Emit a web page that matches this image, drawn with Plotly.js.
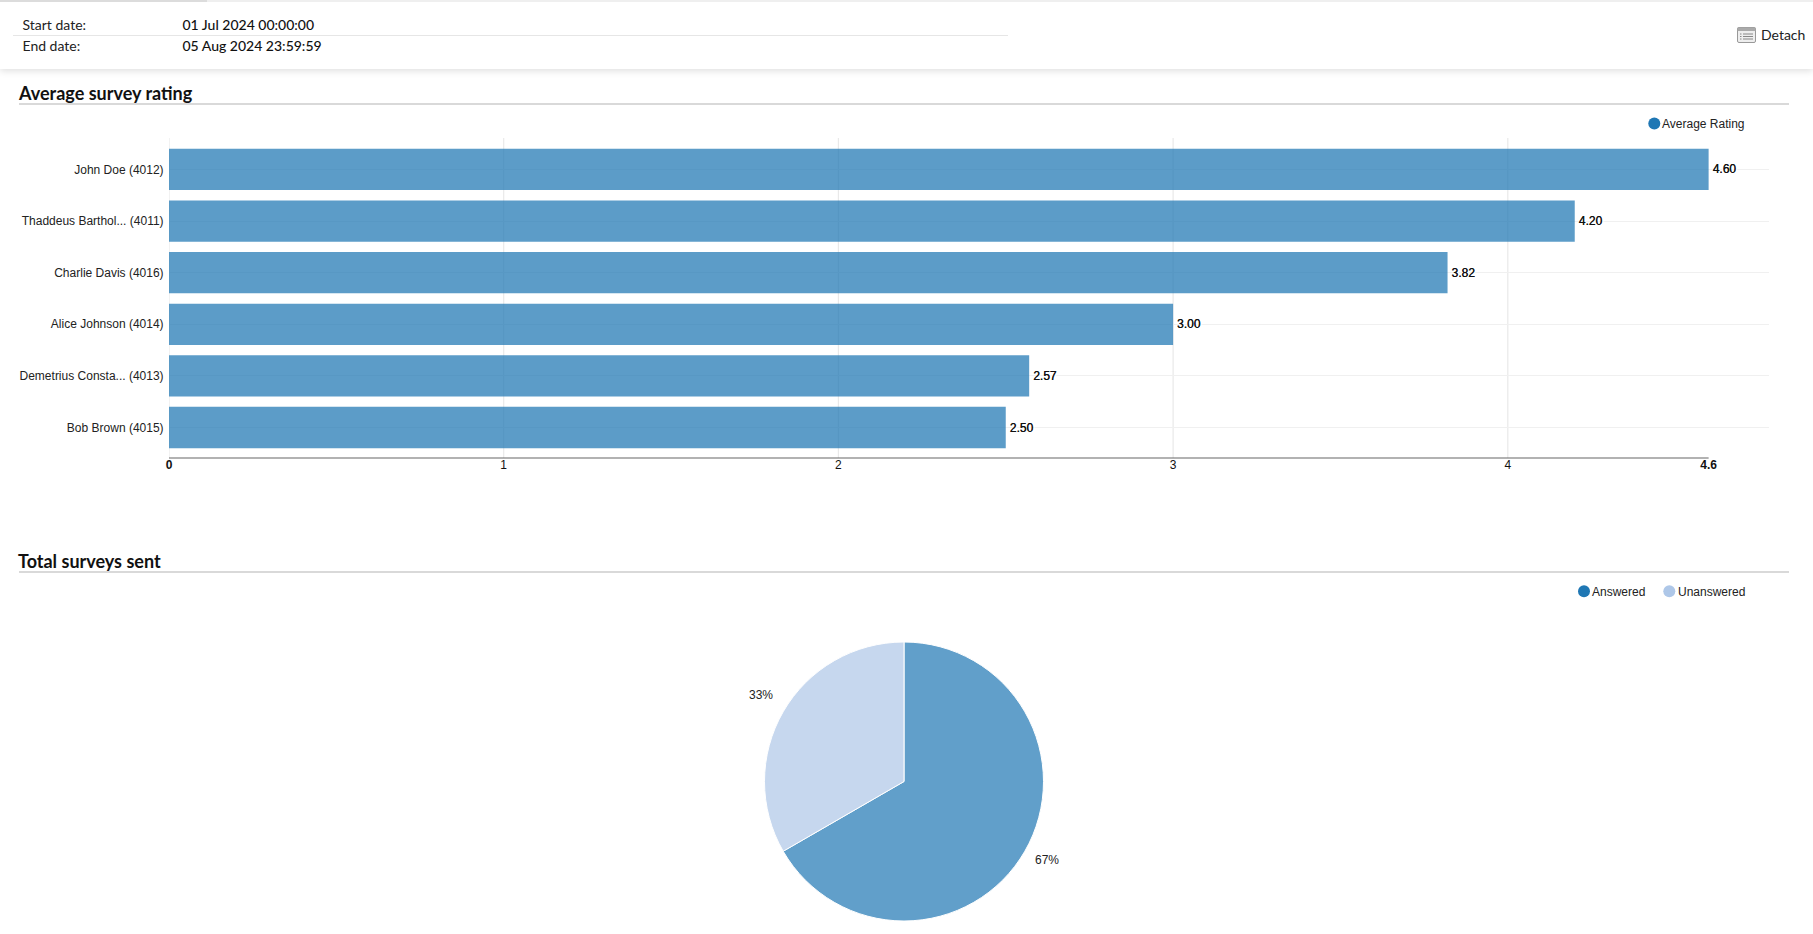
<!DOCTYPE html>
<html>
<head>
<meta charset="utf-8">
<script src="https://cdn.plot.ly/plotly-3.0.1.min.js"></script>
<style>
html,body{margin:0;padding:0;background:#fff;overflow:hidden;width:1813px;height:934px;font-family:Lato,sans-serif;}
#topbar{position:absolute;left:0;top:0;width:1813px;height:2px;background:#efefef;}
#topbar2{position:absolute;left:0;top:0;width:207px;height:2px;background:#dcdcdc;}
#head{position:absolute;left:0;top:0;width:1813px;height:69px;background:#fff;box-shadow:0 2px 7px rgba(0,0,0,.13);}
#rule{position:absolute;left:13px;top:35px;width:995px;height:1px;background:#e6e6e6;}
.t{position:absolute;font-size:14px;line-height:18px;white-space:nowrap;color:#222;}
.v{position:absolute;font-size:14px;line-height:18px;white-space:nowrap;color:#111;font-weight:500;}
#plot{position:absolute;left:0;top:0;width:1813px;height:934px;}
#icon{position:absolute;left:1737px;top:27px;}
</style>
</head>
<body>
<div id="head"></div><div id="topbar"></div><div id="topbar2"></div><div id="rule"></div>
<div class="t" style="left:22.5px;top:16px">Start date:</div>
<div class="v" style="left:182.5px;top:16px">01 Jul 2024 00:00:00</div>
<div class="t" style="left:22.5px;top:36.5px">End date:</div>
<div class="v" style="left:182.5px;top:36.5px">05 Aug 2024 23:59:59</div>
<svg id="icon" width="19" height="16" viewBox="0 0 19 16">
<rect x="0.5" y="0.5" width="18" height="15" rx="1.5" fill="#eee" stroke="#999"/>
<rect x="0.5" y="0.5" width="18" height="3.5" fill="#aaa"/>
<path d="M3 7h1.5M6 7h10M3 9.5h1.5M6 9.5h10M3 12h1.5M6 12h10" stroke="#888" stroke-width="1"/>
</svg>
<div class="t" style="left:1761px;top:25.5px;font-size:14px;color:#222">Detach</div>
<div id="plot"></div>
<script>
const W = 1813, H = 934;
const agents = ["John Doe (4012)", "Thaddeus Barthol... (4011)", "Charlie Davis (4016)", "Alice Johnson (4014)", "Demetrius Consta... (4013)", "Bob Brown (4015)"];
const ratings = [4.60, 4.20, 3.82, 3.00, 2.57, 2.50];
const xTickVals = [0, 1, 2, 3, 4, 4.6];
const xTickText = ["<b>0</b>", "1", "2", "3", "4", "<b>4.6</b>"];
const xGridVals = [0, 1, 2, 3, 4];
const surveyLabels = ["Answered", "Unanswered"];
const surveyValues = [2, 1];
const surveyColors = ["#1f77b4", "#aec7e8"];
const barColor = "#1f77b4";
const fontArial = "Liberation Sans, Arial, sans-serif";

const px = x => x / W;
const py = y => 1 - y / H;

const traces = [
  {
    type: "bar", orientation: "h", y: agents, x: ratings,
    marker: {color: barColor, opacity: 0.73, line: {width: 0}},
    width: 0.8,
    text: ratings.map(v => "\u200a" + v.toFixed(2)),
    textposition: "outside", cliponaxis: false,
    textfont: {family: fontArial, size: 12, color: "#111", shadow: "0.25px 0 0 #111, 2px 0 1px #fff, -1px 0 1px #fff"},
    showlegend: false, hoverinfo: "x+y"
  },
  {
    type: "pie", labels: surveyLabels, values: surveyValues, sort: false, direction: "clockwise", rotation: 0,
    marker: {colors: surveyColors, line: {color: "#fff", width: 1}},
    opacity: 0.7,
    textinfo: "none",
    domain: {x: [px(904 - 139.5), px(904 + 139.5)], y: [py(921), py(642)]},
    showlegend: false
  }
];

function ann(text, x, y, o) {
  return Object.assign({text, x: px(x), y: py(y), xref: "paper", yref: "paper", showarrow: false,
    xanchor: "left", yanchor: "middle", font: {family: fontArial, size: 12, color: "#222"}}, o || {});
}
function dot(cx, cy, color) {
  return {type: "circle", xref: "paper", yref: "paper", x0: px(cx - 6), x1: px(cx + 6), y0: py(cy + 6), y1: py(cy - 6),
    fillcolor: color, line: {width: 0}, layer: "above"};
}
function rule(y) {
  return {type: "line", xref: "paper", yref: "paper", x0: px(19), x1: px(1789), y0: py(y), y1: py(y), line: {color: "#d9d9d9", width: 2}};
}
const surveyTotal = surveyValues.reduce((a, b) => a + b, 0);
let cumulative = 0;
const pieLabels = surveyValues.map(v => {
  const mid = (cumulative + v / 2) / surveyTotal * 2 * Math.PI;
  cumulative += v;
  return ann(Math.round(v / surveyTotal * 100) + "%", 904 + 165 * Math.sin(mid), 777 - 165 * Math.cos(mid), {xanchor: "center"});
});
const xGridLines = xGridVals.map(v => ({type: "line", xref: "x", yref: "y domain", x0: v, x1: v, y0: 0, y1: 1,
  line: {color: "#e9e9e9", width: 1.2}, layer: "below"}));

const layout = {
  width: W, height: H, margin: {l: 0, r: 0, t: 0, b: 0}, autosize: false,
  paper_bgcolor: "rgba(0,0,0,0)", plot_bgcolor: "rgba(0,0,0,0)",
  font: {family: fontArial, size: 12, color: "#222"},
  showlegend: false,
  xaxis: {
    domain: [px(169), px(1769)], range: [0, 1600 / 334.7], tickmode: "array", tickvals: xTickVals, ticktext: xTickText,
    showgrid: false, zeroline: false, showline: false,
    ticks: "", ticklabelstandoff: -2, tickangle: 0,
    tickfont: {family: fontArial, size: 12, color: "#111"}, anchor: "y", fixedrange: true
  },
  yaxis: {
    domain: [py(458), py(138)], type: "category", categoryorder: "array", categoryarray: agents,
    range: [5.591, -0.61], showgrid: true, gridcolor: "#f0f0f0", gridwidth: 1, zeroline: false, showline: false,
    ticks: "outside", ticklen: 2, tickcolor: "rgba(0,0,0,0)",
    tickfont: {family: fontArial, size: 12, color: "#222"}, anchor: "x", fixedrange: true
  },
  shapes: [
    rule(104), rule(572),
    {type: "line", xref: "x", yref: "paper", x0: 0, x1: Math.max(...ratings), y0: py(458), y1: py(458), line: {color: "#666", width: 1.2}, layer: "above"},
    dot(1654.3, 123.5, barColor),
    dot(1584, 591.3, surveyColors[0]),
    dot(1669.3, 591.3, surveyColors[1])
  ].concat(xGridLines),
  annotations: [
    ann("Average survey rating", 15.5, 93, {font: {family: "Lato", size: 18, color: "#111", weight: 700}}),
    ann("Total surveys sent", 15.5, 561, {font: {family: "Lato", size: 18, color: "#111", weight: 700}}),
    ann("Average Rating", 1660, 123.5),
    ann(surveyLabels[0], 1590, 591.6),
    ann(surveyLabels[1], 1675.5, 591.6)
  ].concat(pieLabels)
};
Plotly.newPlot("plot", traces, layout, {displayModeBar: false, responsive: false});
</script>
</body>
</html>
